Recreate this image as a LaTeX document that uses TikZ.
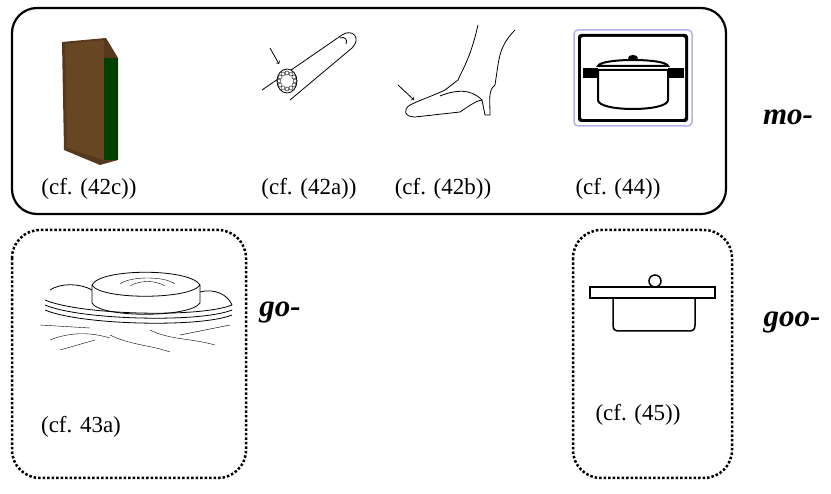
\documentclass[tikz,border=0pt]{standalone}
\usepackage{fontspec}
\setmainfont{Liberation Serif}
\begin{document}
\begin{tikzpicture}[x=1pt,y=-1pt,
  lbl/.style={font=\fontsize{23}{25}\selectfont},
  morph/.style={font=\fontsize{31}{33}\selectfont\bfseries\itshape},
  ln/.style={line width=0.8pt}]
\useasboundingbox (0,0) rectangle (831,494);
% boxes
\draw[line width=2.2pt,rounded corners=25pt] (12,8) rectangle (726,214);
\draw[line width=2.5pt,dotted,rounded corners=28pt] (12,230) rectangle (246,478);
\draw[line width=2.5pt,dotted,rounded corners=28pt] (573,230) rectangle (732,478);
% labels
\node[lbl] (c1) at (89,189) {(cf. (42c))};
\node[lbl] (c2) at (309,189) {(cf. (42a))};
\node[lbl] (c3) at (443,189) {(cf. (42b))};
\node[lbl] (c4) at (618,189) {(cf. (44))};
\node[lbl] (c5) at (81,427) {(cf. 43a)};
\node[lbl] (c6) at (638,415) {(cf. (45))};
\node[morph] (mo) at (788,117) {mo-};
\node[morph] (go) at (280,312) {go-};
\node[morph] (goo) at (792,322) {goo-};
% book
\fill[brown!45!black] (62,42) -- (106,38) -- (118,58) -- (118,160) -- (100,165) -- (64,150) -- cycle;
\fill[brown!55!black] (65,44) -- (104,40) -- (104,160) -- (67,148) -- cycle;
\fill[green!25!black] (104,58) rectangle (118,160);
% finger with ring
\draw[ln] (262,90) -- (342,35) .. controls (352,28) and (362,38) .. (352,48) -- (290,100);
\draw[ln] (340,38) .. controls (345,36) and (348,40) .. (346,44);
\draw[ln,fill=white] (287,81) ellipse (10pt and 12pt);
\foreach \a in {0,30,...,330} \draw (287,81) ++(\a:8) circle (2pt);
\draw[ln,->] (270,48) -- (279,64);
% shoe
\draw[ln] (478,25) .. controls (470,60) and (462,70) .. (458,80) -- (445,90)
  .. controls (435,95) and (420,100) .. (410,105) .. controls (402,110) and (405,117) .. (415,117)
  -- (460,112) .. controls (470,105) and (478,100) .. (482,100) -- (485,115) -- (490,115)
  .. controls (490,100) and (488,90) .. (495,85) -- (498,65) .. controls (500,50) and (505,40) .. (515,30);
\draw[ln] (440,96) .. controls (455,90) and (470,88) .. (482,100);
\draw[ln,->] (398,85) -- (414,100);
% pot icon
\draw[line width=1.5pt,rounded corners=4pt,draw=gray!50!blue!40] (574,30) rectangle (692,126);
\fill[black,rounded corners=3pt] (578,34) rectangle (688,122);
\fill[white,rounded corners=2pt] (581,37) rectangle (685,119);
\fill[black] (583,68) rectangle (598,78);
\fill[black] (668,68) rectangle (684,78);
\draw[line width=2pt,fill=white] (598,66) .. controls (600,58) and (666,58) .. (668,66) -- cycle;
\fill (633,58) ellipse (5pt and 3pt);
\draw[line width=2pt,fill=white] (598,70) -- (668,70) -- (668,100) .. controls (668,112) and (598,112) .. (598,100) -- cycle;
% simple pot
\draw[line width=1.5pt] (655,281) circle (6pt);
\draw[line width=1.5pt,fill=white] (590,287) rectangle (715,298);
\draw[line width=1.5pt] (613,298) -- (613,325) .. controls (613,330) and (615,331) .. (620,331) -- (688,331) .. controls (693,331) and (695,330) .. (695,325) -- (695,298);
% plate on rope
\draw[ln,fill=white] (92,285) .. controls (100,268) and (190,268) .. (200,285) -- (200,303) .. controls (190,318) and (100,318) .. (92,303) -- cycle;
\draw[ln] (92,285) .. controls (100,300) and (190,300) .. (200,285);
\draw (120,284) .. controls (130,276) and (165,276) .. (175,284);
\draw (130,286) .. controls (140,280) and (155,280) .. (165,286);
\foreach \dy in {0,5,10} {
  \draw[ln] (45,{300+\dy}) .. controls (80,{315+\dy}) and (200,{318+\dy}) .. (232,{305+\dy});
}
\draw[ln] (50,290) .. controls (60,283) and (80,283) .. (92,290);
\draw[ln] (200,292) .. controls (215,288) and (228,295) .. (232,305);
\draw (40,325) -- (90,328); \draw (50,340) .. controls (70,332) and (90,332) .. (110,338);
\draw (110,335) .. controls (130,345) and (150,345) .. (170,352);
\draw (150,330) .. controls (170,340) and (190,338) .. (215,345);
\draw (60,350) -- (95,340); \draw (180,335) -- (230,325);
\end{tikzpicture}
\end{document}
